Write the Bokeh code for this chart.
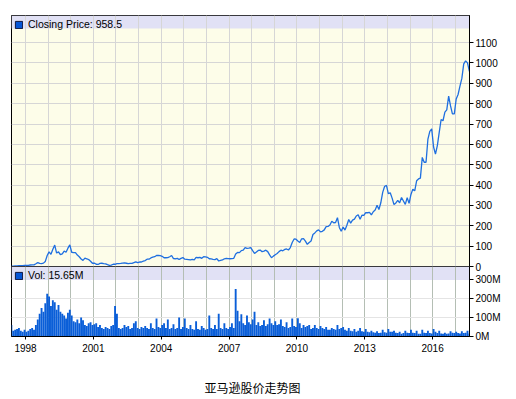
import numpy as np
from bokeh.plotting import figure
from bokeh.models import (FixedTicker, BoxAnnotation, Legend, LegendItem,
                          ColumnDataSource, Range1d)
from bokeh.core.properties import value
from bokeh.layouts import column
from bokeh.embed import file_html
from bokeh.resources import INLINE

# ---------------- data (monthly, May 1997 .. Aug 2017) ----------------
start_year = 1997
start_month = 5

price = [
    # 1997 (May-Dec)
    1.5, 1.7, 2.6, 3.3, 4.3, 4.0, 4.1, 5.0,
    # 1998
    5.3, 5.6, 7.3, 7.9, 8.2, 13.5, 19.0, 15.0, 14.0, 16.5, 25.0, 54.0,
    # 1999
    72, 60, 85, 105, 66, 72, 58, 62, 76, 70, 90, 106,
    # 2000
    70, 68, 68, 56, 48, 37, 30, 41, 38, 34, 26, 16,
    # 2001
    17, 11, 10, 15, 16, 14, 13, 9, 6, 7, 11, 11,
    # 2002
    14, 14, 15, 17, 18, 16, 14, 15, 15, 19, 23, 19,
    # 2003
    22, 22, 26, 29, 36, 36, 42, 46, 48, 54, 54, 53,
    # 2004
    50, 43, 43, 44, 48, 54, 39, 38, 40, 34, 40, 44,
    # 2005
    36, 35, 34, 32, 35, 33, 45, 43, 45, 40, 48, 47,
    # 2006
    45, 38, 37, 35, 34, 39, 27, 30, 32, 38, 40, 39,
    # 2007
    38, 39, 40, 61, 69, 68, 78, 80, 93, 89, 90, 93,
    # 2008
    78, 64, 71, 79, 81, 73, 76, 80, 73, 57, 43, 51,
    # 2009
    58, 64, 73, 80, 77, 84, 86, 81, 93, 118, 135, 134,
    # 2010
    125, 118, 136, 137, 125, 109, 118, 125, 157, 165, 175, 180,
    # 2011
    170, 173, 180, 196, 197, 204, 222, 215, 216, 240, 192, 173,
    # 2012
    194, 179, 203, 231, 213, 228, 233, 248, 254, 232, 252, 251,
    # 2013
    265, 264, 266, 254, 269, 277, 301, 280, 313, 364, 393, 399,
    # 2014
    358, 362, 336, 304, 312, 325, 313, 339, 322, 305, 338, 310,
    # 2015
    354, 380, 372, 421, 430, 434, 536, 512, 512, 626, 664, 676,
    # 2016
    587, 552, 594, 659, 722, 716, 758, 769, 837, 789, 750, 750,
    # 2017 (Jan-Aug)
    823, 845, 886, 924, 995, 1010, 1000, 958.5,
]

volume_m = [
    # 1997 (May-Dec)
    60, 30, 35, 40, 45, 30, 25, 35,
    # 1998
    25, 30, 40, 45, 35, 60, 90, 120, 150, 130, 175, 225,
    # 1999
    210, 160, 190, 180, 140, 165, 130, 120, 110, 95, 125, 140,
    # 2000
    110, 80, 75, 90, 70, 100, 85, 60, 55, 70, 75, 60,
    # 2001
    65, 70, 50, 60, 45, 40, 50, 45, 40, 55, 60, 160,
    # 2002
    120, 45, 40, 45, 60, 50, 55, 40, 45, 70, 80, 45,
    # 2003
    40, 50, 45, 55, 45, 40, 70, 45, 40, 95, 50, 45,
    # 2004
    60, 70, 45, 90, 40, 45, 65, 40, 45, 100, 40, 50,
    # 2005
    95, 45, 40, 60, 40, 35, 80, 40, 35, 55, 45, 35,
    # 2006
    40, 110, 45, 40, 60, 40, 120, 45, 40, 70, 45, 40,
    # 2007
    50, 70, 45, 250, 135, 80, 117, 70, 60, 110, 75, 65,
    # 2008
    90, 130, 60, 75, 55, 60, 85, 55, 65, 95, 70, 60,
    # 2009
    80, 60, 65, 90, 55, 50, 75, 45, 50, 95, 55, 50,
    # 2010
    96, 70, 45, 60, 50, 55, 60, 40, 45, 60, 45, 40,
    # 2011
    55, 45, 40, 50, 35, 35, 45, 40, 35, 60, 40, 45,
    # 2012
    50, 35, 30, 45, 30, 28, 40, 25, 30, 45, 28, 25,
    # 2013
    40, 25, 22, 30, 22, 20, 28, 18, 20, 35, 22, 20,
    # 2014
    40, 25, 25, 30, 20, 18, 25, 15, 18, 30, 20, 18,
    # 2015
    35, 20, 18, 30, 15, 14, 35, 20, 18, 30, 18, 16,
    # 2016
    40, 25, 18, 30, 16, 14, 20, 14, 16, 28, 20, 18,
    # 2017 (Jan-Aug)
    25, 18, 16, 28, 18, 20, 30, 15.65,
]

price_ticks = [0, 100, 200, 300, 400, 500, 600, 700, 800, 900, 1000, 1100]
vol_ticks = [0, 100, 200, 300]
vol_tick_labels = ["0M", "100M", "200M", "300M"]
year_ticks = [1998, 2001, 2004, 2007, 2010, 2013, 2016]
grid_years = list(range(1998, 2018))

price_legend = "Closing Price: 958.5"
vol_legend = "Vol: 15.65M"
chart_title = "亚马逊股价走势图"

# ---------------- build ----------------
n = min(len(price), len(volume_m))
idx = np.arange(n) + (start_month - 1)
xs = start_year + (idx + 0.5) / 12.0
zeros = np.zeros(n)
src = ColumnDataSource(dict(x=xs, price=price[:n], vol=volume_m[:n], z=zeros))

FONT = "Liberation Sans"
LAVENDER = "#e1e1f5"
SWATCH_FILL = "#0555d5"
SWATCH_LINE = "#101840"
xr = Range1d(1997.38, 2017.63)

OVERLAP = 6

p = figure(width=508, height=266 + OVERLAP, x_range=xr, y_range=Range1d(0, 1233),
           x_axis_location=None, y_axis_location="right",
           toolbar_location=None, output_backend="svg",
           min_border_left=11, min_border_right=39, min_border_top=15,
           min_border_bottom=OVERLAP,
           background_fill_color="#fdfde9", border_fill_color="white",
           outline_line_color="black", outline_line_width=1)

band = BoxAnnotation(bottom=1169, fill_color=LAVENDER, fill_alpha=1.0,
                     line_alpha=0, level="image")
p.add_layout(band)

p.xgrid.ticker = FixedTicker(ticks=grid_years)
p.ygrid.ticker = FixedTicker(ticks=price_ticks[1:])
p.xgrid.grid_line_color = "#d6d6d6"
p.ygrid.grid_line_color = "#d6d6d6"

p.line("x", "price", source=src, line_color="#1f6fe0", line_width=1.3)

# zero-size quads: only serve as legend swatches
sw = p.quad(left="x", right="x", top="z", bottom="z", source=src,
            fill_color=SWATCH_FILL, line_color=SWATCH_LINE)
leg = Legend(items=[LegendItem(label=price_legend, renderers=[sw])],
             location="top_left", margin=0, padding=3,
             glyph_width=9, glyph_height=9, label_height=9, label_standoff=5,
             background_fill_alpha=0, border_line_alpha=0,
             label_text_font_size="10.5px", label_text_font=FONT, label_text_color="black")
p.add_layout(leg)

ya = p.yaxis[0]
ya.ticker = FixedTicker(ticks=price_ticks)
ya.major_tick_out = 4
ya.major_tick_in = 0
ya.minor_tick_out = 0
ya.minor_tick_in = 0
ya.axis_line_color = "black"
ya.major_label_standoff = 2
ya.major_label_text_font = FONT
ya.major_label_text_font_size = "10px"
ya.major_label_text_color = "black"

# ---------------- volume ----------------
v = figure(width=508, height=100, x_range=xr, y_range=Range1d(0, 368),
           x_axis_location="below", y_axis_location="right",
           toolbar_location=None, output_backend="svg",
           min_border_left=11, min_border_right=39, min_border_top=0, min_border_bottom=30,
           background_fill_color="white", border_fill_color="white", border_fill_alpha=0,
           outline_line_color="black", outline_line_width=1)
v.margin = (-OVERLAP, 0, 0, 0)

vband = BoxAnnotation(bottom=297, fill_color=LAVENDER, fill_alpha=1.0,
                      line_alpha=0, level="image")
v.add_layout(vband)

v.xgrid.ticker = FixedTicker(ticks=grid_years)
v.xgrid.grid_line_color = "#b4beb4"
v.ygrid.ticker = FixedTicker(ticks=[100, 200])
v.ygrid.grid_line_color = "#e4e4e4"

v.vbar(x="x", top="vol", width=1 / 12.0, source=src,
       fill_color="#0a5ed8", line_color=None)

vsw = v.quad(left="x", right="x", top="z", bottom="z", source=src,
             fill_color=SWATCH_FILL, line_color=SWATCH_LINE)
vleg = Legend(items=[LegendItem(label=vol_legend, renderers=[vsw])],
              location="top_left", margin=0, padding=3,
              glyph_width=9, glyph_height=9, label_height=9, label_standoff=5,
              background_fill_alpha=0, border_line_alpha=0,
              label_text_font_size="10.5px", label_text_font=FONT, label_text_color="black")
v.add_layout(vleg)

vy = v.yaxis[0]
vy.ticker = FixedTicker(ticks=vol_ticks)
vy.major_label_overrides = {t: s for t, s in zip(vol_ticks, vol_tick_labels)}
vy.major_tick_out = 4
vy.major_tick_in = 0
vy.axis_line_color = "black"
vy.major_label_standoff = 2
vy.major_label_text_font = FONT
vy.major_label_text_font_size = "10px"
vy.major_label_text_color = "black"

vx = v.xaxis[0]
vx.ticker = FixedTicker(ticks=year_ticks)
vx.major_tick_out = 3
vx.major_tick_in = 0
vx.axis_line_color = "black"
vx.major_label_standoff = 4
vx.major_label_text_font = FONT
vx.major_label_text_font_size = "10px"
vx.major_label_text_color = "black"

# ---------------- caption strip ----------------
c = figure(width=508, height=33, x_range=Range1d(0, 508), y_range=Range1d(0, 33),
           x_axis_location=None, y_axis_location=None,
           toolbar_location=None, output_backend="svg",
           min_border_left=0, min_border_right=0, min_border_top=0, min_border_bottom=0,
           background_fill_color="white", border_fill_color="white",
           outline_line_color=None)
c.xgrid.visible = False
c.ygrid.visible = False
c.text(x=[214], y=[12], text=[chart_title], text_align="left", text_baseline="middle",
       text_font=value("Noto Sans CJK SC"), text_font_size="12px", text_color="black")

layout = column(p, v, c, spacing=0)
open("out.html", "w").write(file_html(layout, INLINE))
